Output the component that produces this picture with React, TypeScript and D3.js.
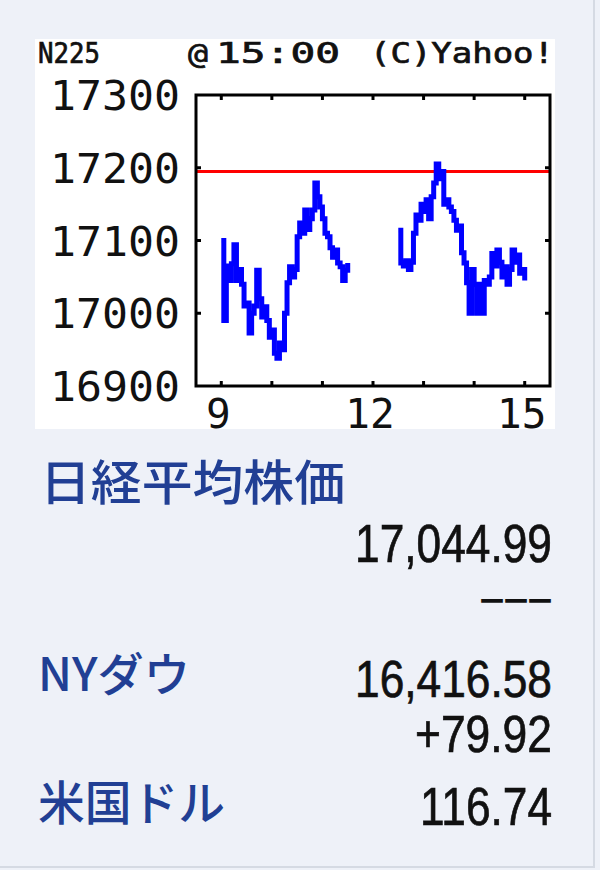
import React from 'react';
import * as d3 from 'd3';

const yTicks = [16900, 17000, 17100, 17200, 17300];
const xTicks = [9, 10, 11, 12, 13, 14, 15];
const xTickLabels = [9, 12, 15];
const prevClose = 17195;
const morningStart = 9;
const afternoonStart = 12.5;
const stepMinutes = 3;

const morningValues = [
  17100, 16990, 17065, 17045, 17068, 17094, 17045, 17060, 17040, 17010,
  17014, 16973, 17000, 17010, 17059, 17020, 16995, 17009, 16990, 16967,
  16977, 16945, 16938, 16959, 16950, 17000, 17042, 17064, 17050, 17060,
  17105, 17124, 17110, 17142, 17115, 17130, 17142, 17179, 17160, 17146,
  17130, 17110, 17105, 17090, 17077, 17087, 17069, 17064, 17045, 17059,
  17069,
];

const afternoonValues = [
  17114, 17069, 17065, 17072, 17060, 17070, 17110, 17135, 17128, 17150,
  17140, 17156, 17130, 17160, 17179, 17205, 17185, 17195, 17150, 17156,
  17146, 17140, 17128, 17114, 17120, 17083, 17069, 17042, 17000, 17060,
  17040, 17000, 17040, 17000, 17045, 17040, 17050, 17082, 17065, 17087,
  17070, 17050, 17064, 17040, 17060, 17087, 17070, 17080, 17055, 17060,
  17045,
];

const headerParts = ['N225', '@', '15:00', '(C)Yahoo!'];
const rowLabels = ['日経平均株価', 'NYダウ', '米国ドル'];
const rowValues = ['17,044.99', '---', '16,416.58', '+79.92', '116.74'];

export default function App() {
  const W = 600;
  const H = 870;
  const x = d3.scaleLinear().domain([8.5, 15.5]).range([196, 550]);
  const y = d3.scaleLinear().domain([16900, 17300]).range([386, 95]);

  const toPts = (start: number, vals: number[]) =>
    vals.map((v, i) => [start + (i * stepMinutes) / 60, v] as [number, number]);

  const line = d3
    .line<[number, number]>()
    .x((d) => x(d[0]))
    .y((d) => y(d[1]))
    .curve(d3.curveStepAfter);

  const morning = toPts(morningStart, morningValues);
  const afternoon = toPts(afternoonStart, afternoonValues);

  const x0 = x(8.5), x1 = x(15.5), yTop = y(17300), yBot = y(16900);
  const mono = "'DejaVu Sans Mono', monospace";
  const narrow = "'Liberation Sans Narrow', 'Liberation Sans', Arial, sans-serif";
  const jp = "'Noto Sans CJK JP', sans-serif";
  const blue = '#213f94';
  const numStyle = { stroke: '#111', strokeWidth: 0.7 } as const;
  const headStyle = { stroke: '#111', strokeWidth: 0.7 } as const;

  return (
    <svg
      width={W}
      height={H}
      style={{ position: 'absolute', left: 0, top: 0, display: 'block' }}
    >
      <rect x={0} y={0} width={W} height={H} fill="#eef1f8" />
      <line x1={594} y1={0} x2={594} y2={868} stroke="#d5dae3" strokeWidth={2} />
      <line x1={0} y1={867} x2={595} y2={867} stroke="#d5dae3" strokeWidth={2} />

      {/* chart image */}
      <rect x={35} y={39} width={520} height={390} fill="#ffffff" />

      {/* header */}
      <text x={38} y={63} fontFamily={mono} fontSize={28} textLength={62} lengthAdjust="spacingAndGlyphs" fill="#111" {...headStyle}>{headerParts[0]}</text>
      <text x={188} y={64} fontFamily={mono} fontSize={28} textLength={20} lengthAdjust="spacingAndGlyphs" fill="#111" {...headStyle}>{headerParts[1]}</text>
      <text x={216} y={63} fontFamily={mono} fontSize={28} textLength={124} lengthAdjust="spacingAndGlyphs" fill="#111" {...headStyle}>{headerParts[2]}</text>
      <text x={370} y={63} fontFamily={mono} fontSize={28} textLength={184} lengthAdjust="spacingAndGlyphs" fill="#111" {...headStyle}>{headerParts[3]}</text>

      {/* y tick labels */}
      {yTicks.map((t) => (
        <text key={t} x={180} y={y(t) + 15} textAnchor="end" fontFamily={mono} fontSize={41} textLength={130} lengthAdjust="spacingAndGlyphs" fill="#111">{t}</text>
      ))}
      {/* x tick labels */}
      {xTickLabels.map((t) => (
        <text key={t} x={x(t) - 3} y={428} textAnchor="middle" fontFamily={mono} fontSize={41} fill="#111">{t}</text>
      ))}

      {/* previous close */}
      <line x1={x0} x2={x1} y1={y(prevClose)} y2={y(prevClose)} stroke="#ff0000" strokeWidth={3} />

      {/* data */}
      <path d={line(morning) || ''} fill="none" stroke="#0000ff" strokeWidth={5} strokeLinejoin="miter" />
      <path d={line(afternoon) || ''} fill="none" stroke="#0000ff" strokeWidth={5} strokeLinejoin="miter" />

      {/* frame */}
      <rect x={x0} y={yTop} width={x1 - x0} height={yBot - yTop} fill="none" stroke="#000" strokeWidth={3} />
      {xTicks.map((t) => (
        <g key={t}>
          <line x1={x(t)} x2={x(t)} y1={yTop} y2={yTop + 5} stroke="#000" strokeWidth={3} />
          <line x1={x(t)} x2={x(t)} y1={yBot} y2={yBot - 5} stroke="#000" strokeWidth={3} />
        </g>
      ))}
      {yTicks.slice(1, -1).map((t) => (
        <g key={t}>
          <line x1={x0} x2={x0 + 5} y1={y(t)} y2={y(t)} stroke="#000" strokeWidth={3} />
          <line x1={x1} x2={x1 - 5} y1={y(t)} y2={y(t)} stroke="#000" strokeWidth={3} />
        </g>
      ))}

      {/* quote list */}
      <text x={40} y={500} fontFamily={jp} fontWeight={500} fontSize={48} textLength={305} lengthAdjust="spacingAndGlyphs" fill={blue}>{rowLabels[0]}</text>
      <text x={552} y={562} textAnchor="end" fontFamily={narrow} fontSize={54} textLength={197} lengthAdjust="spacingAndGlyphs" fill="#111" {...numStyle}>{rowValues[0]}</text>
      <text x={552} y={608} textAnchor="end" fontFamily={narrow} fontSize={28} textLength={72} lengthAdjust="spacingAndGlyphs" fill="#111" stroke="#111" strokeWidth={1.6}>{rowValues[1]}</text>

      <text x={38} y={691} fontFamily={jp} fontWeight={500} fontSize={46} textLength={152} lengthAdjust="spacingAndGlyphs" fill={blue}>{rowLabels[1]}</text>
      <text x={552} y={697} textAnchor="end" fontFamily={narrow} fontSize={52} textLength={197} lengthAdjust="spacingAndGlyphs" fill="#111" {...numStyle}>{rowValues[2]}</text>
      <text x={552} y={752} textAnchor="end" fontFamily={narrow} fontSize={52} textLength={137} lengthAdjust="spacingAndGlyphs" fill="#111" {...numStyle}>{rowValues[3]}</text>

      <text x={38} y={820} fontFamily={jp} fontWeight={500} fontSize={47} textLength={187} lengthAdjust="spacingAndGlyphs" fill={blue}>{rowLabels[2]}</text>
      <text x={552} y={825} textAnchor="end" fontFamily={narrow} fontSize={54} textLength={132} lengthAdjust="spacingAndGlyphs" fill="#111" {...numStyle}>{rowValues[4]}</text>
    </svg>
  );
}
